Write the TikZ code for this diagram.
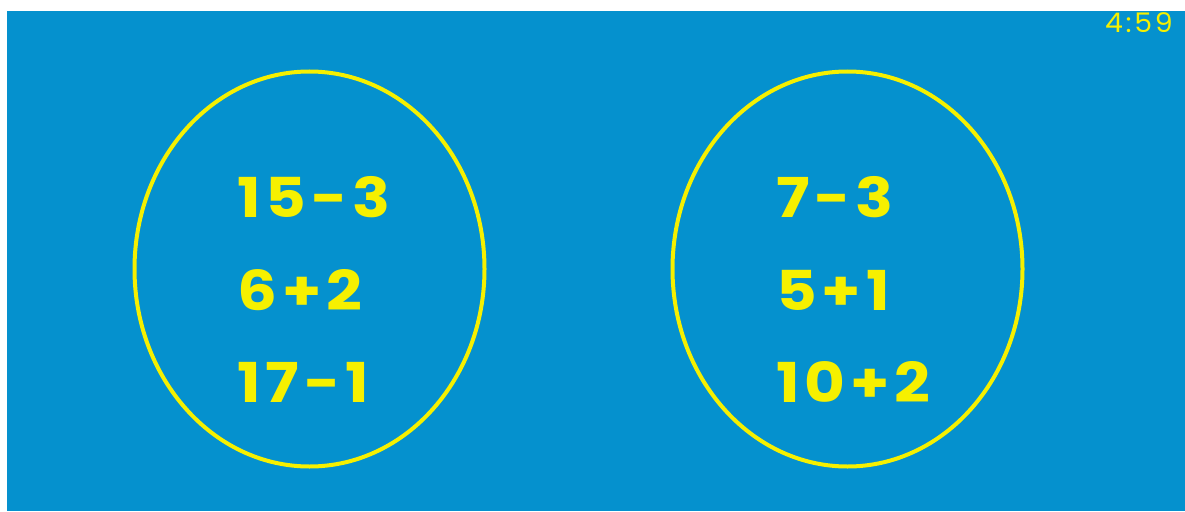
\documentclass[tikz,border=0pt]{standalone}
\usepackage{fontspec}
\setmainfont{Poppins}
\newfontfamily\exprfont[LetterSpace=9,FakeStretch=1.14]{Poppins}
\newfontfamily\timerfont[LetterSpace=10,FakeStretch=1.05]{Poppins}
\definecolor{bg}{HTML}{0591CE}
\definecolor{ylw}{HTML}{F6F000}
\begin{document}
\begin{tikzpicture}[x=1pt,y=-1pt,
  expr/.style={anchor=base west,inner sep=0pt,text=ylw,font=\exprfont\fontsize{55}{55}\selectfont\bfseries},
  ring/.style={draw=ylw,line width=4pt}]
\useasboundingbox (0,0) rectangle (1185,511);
\fill[white] (0,0) rectangle (1185,511);
\fill[bg] (7,11) rectangle (1185,511);
\draw[ring] (309.5,269) ellipse [x radius=175, y radius=197.5];
\draw[ring] (847.5,269) ellipse [x radius=175, y radius=197.5];
\node[expr] (a1) at (237,217) {15-3};
\node[expr] (a2) at (237,310) {6+2};
\node[expr] (a3) at (237,402) {17-1};
\node[expr] (b1) at (776,217) {7-3};
\node[expr] (b2) at (776,310) {5+1};
\node[expr] (b3) at (776,402) {10+2};
\node[anchor=base east,inner sep=0pt,text=ylw,font=\timerfont\fontsize{27}{27}\selectfont] (t) at (1173,33) {4:59};
\end{tikzpicture}
\end{document}
